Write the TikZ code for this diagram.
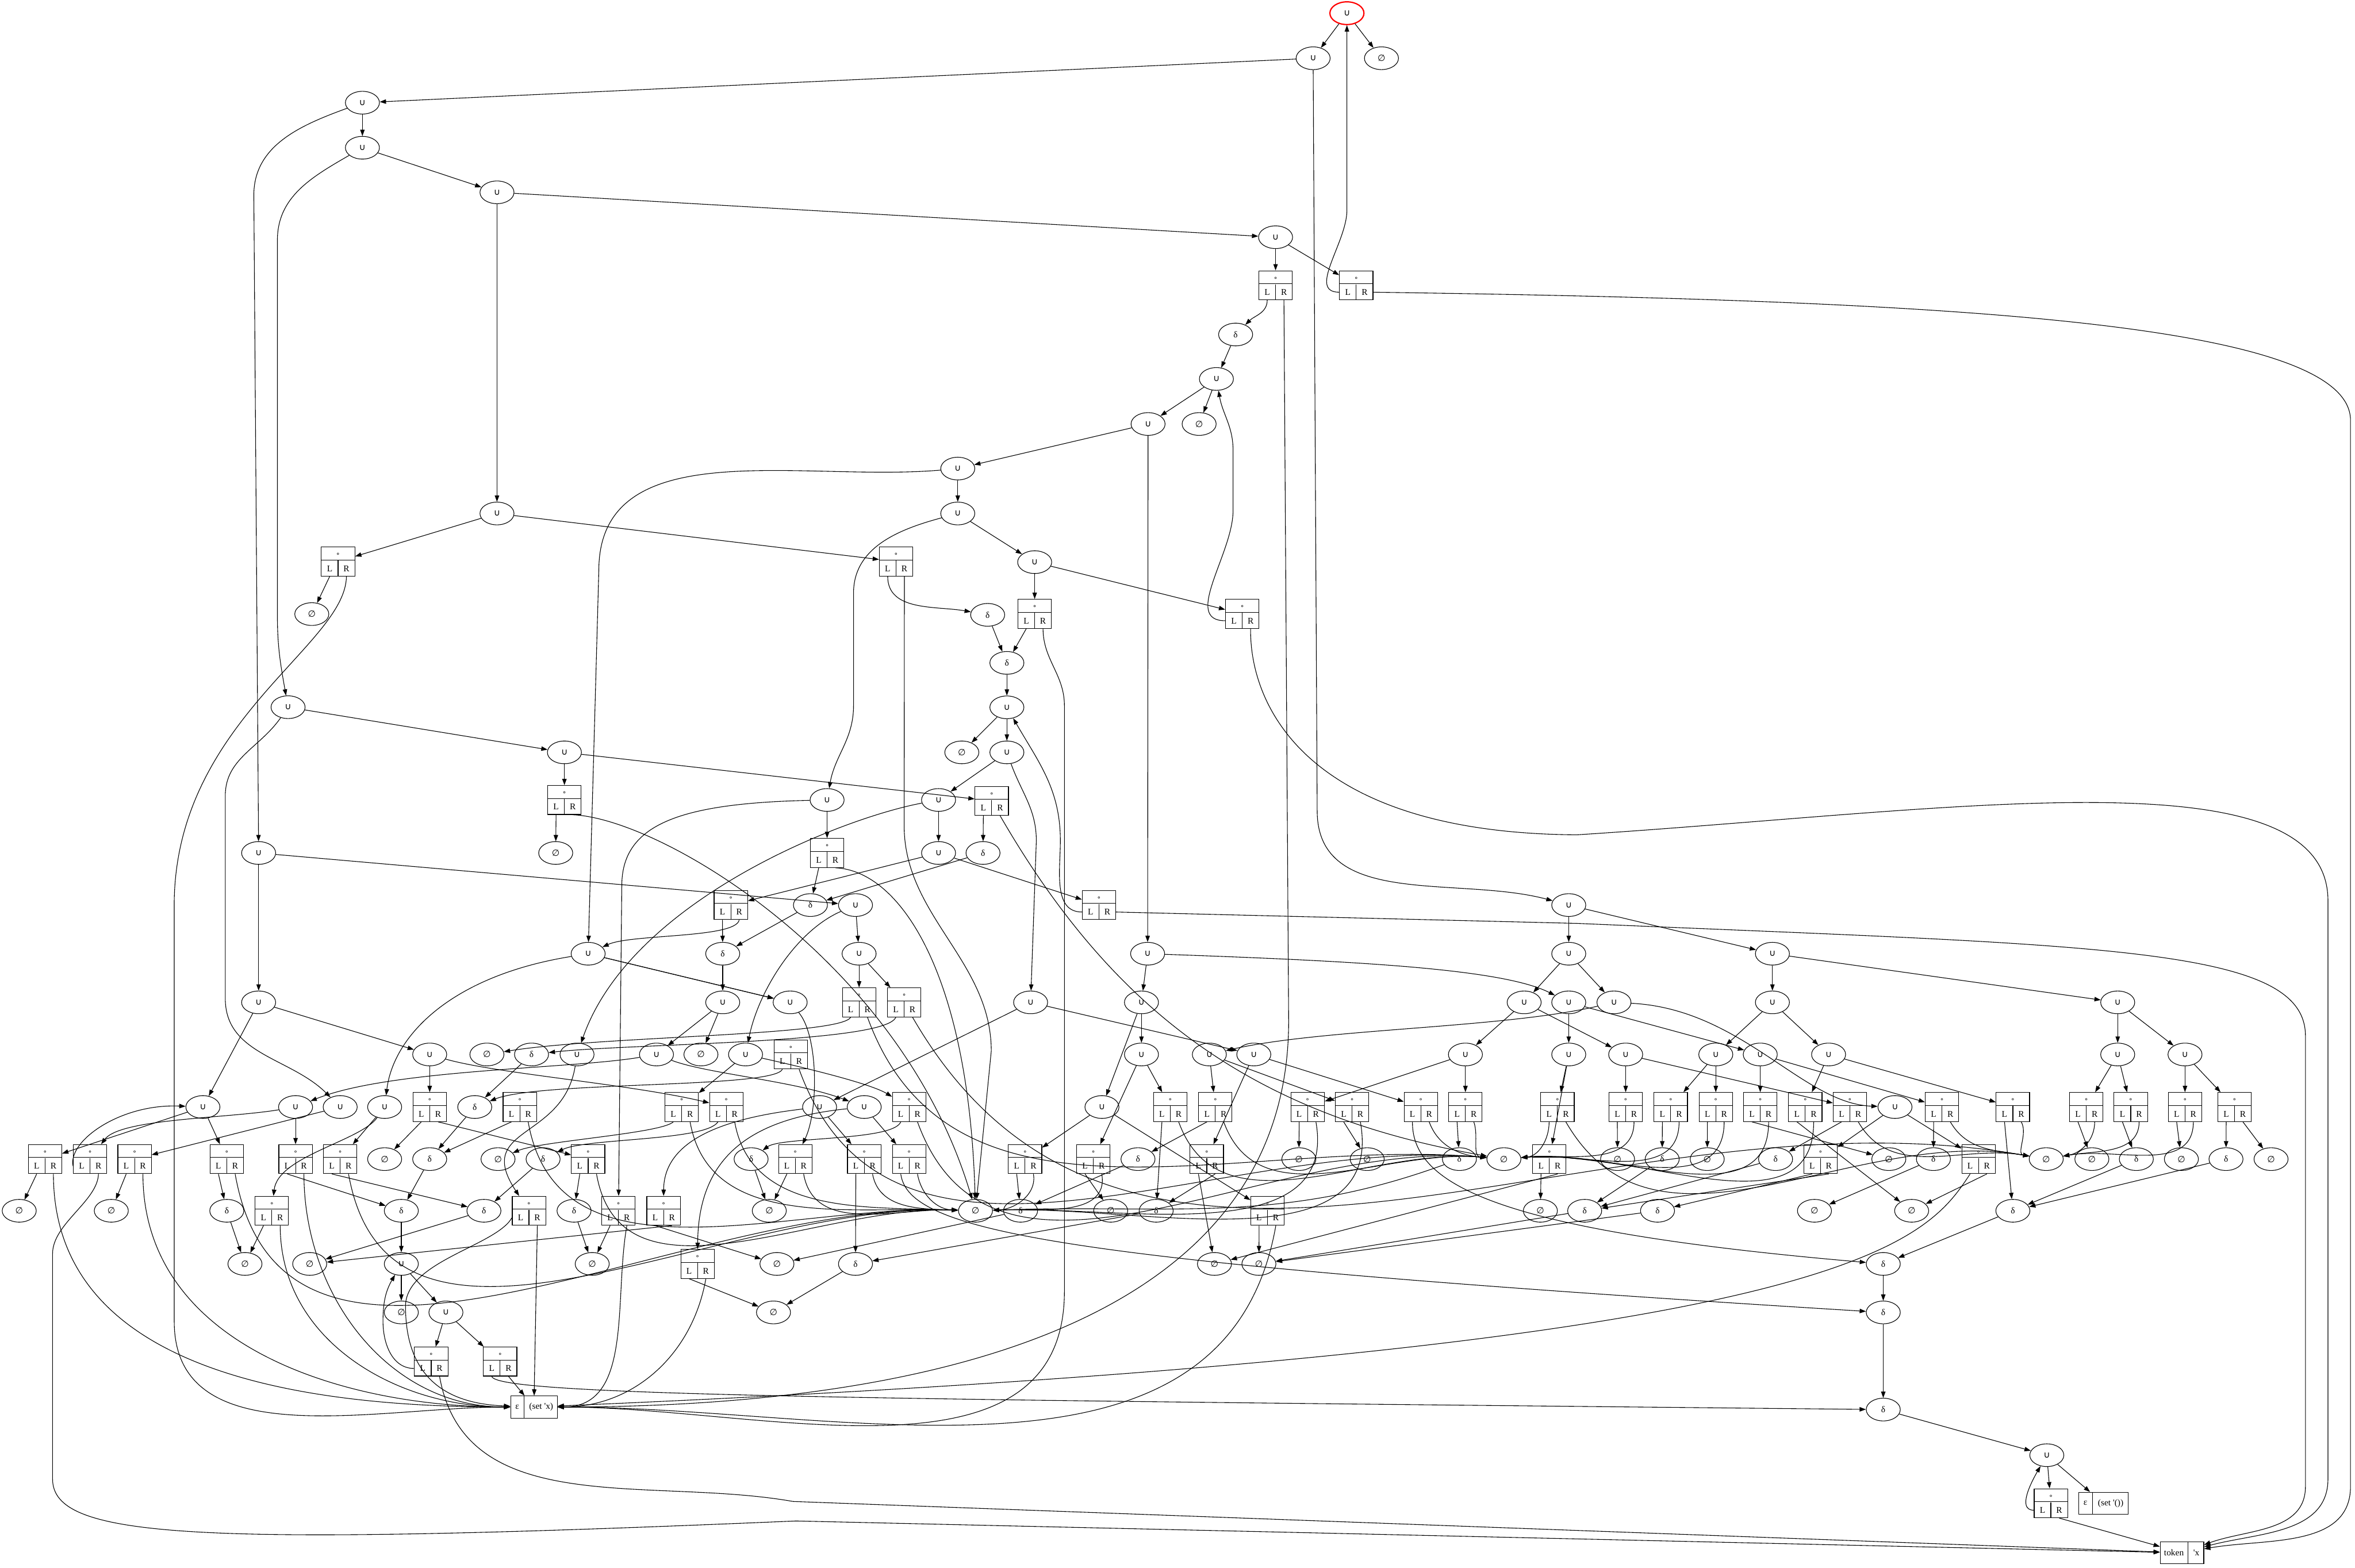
\documentclass[tikz,border=0pt]{standalone}
\usepackage{fontspec}
\setmainfont{Liberation Serif}
\newfontfamily\symf{DejaVu Sans}
\usetikzlibrary{positioning,arrows.meta,shapes.geometric,calc}

% concatenation record: empty top cell, L | R below
\newcommand{\catrec}[3]{%
  \node[catbox] (#1) at (#2,#3) {};
  \draw ($(#1.north west)+(0,-2.65pt)$) -- ($(#1.north east)+(0,-2.65pt)$);
  \draw (#1.south) -- ($(#1.south)+(0,3.15pt)$);
  \node[dot] at ($(#1.north)+(0,-1.6pt)$) {∘};
  \node[port] at ($(#1.south)+(-1.67pt,1.575pt)$) {L};
  \node[port] at ($(#1.south)+(1.67pt,1.575pt)$) {R};
  \coordinate (#1L) at ($(#1.south)+(-1.67pt,0)$);
  \coordinate (#1R) at ($(#1.south)+(1.67pt,0)$);
  \coordinate (#1Lw) at ($(#1.south west)+(0,1.575pt)$);
  \coordinate (#1Re) at ($(#1.south east)+(0,1.575pt)$);
}
% two-cell record
\newcommand{\pairrec}[7]{%
  \node[pairbox, minimum width=#4+#5] (#1) at (#2,#3) {};
  \draw ($(#1.north west)+(#4,0)$) -- ($(#1.south west)+(#4,0)$);
  \node[port] at ($(#1.west)+(#4/2,0)$) {#6};
  \node[port] at ($(#1.east)-(#5/2,0)$) {#7};
}

\begin{document}
\begin{tikzpicture}[x=0.3pt, y=-0.3pt, line width=0.126pt,
    op/.style={ellipse, draw, minimum width=6.8pt, minimum height=4.54pt, inner sep=0pt, font=\symf\fontsize{1.77}{2}\selectfont},
    dlt/.style={op, font=\fontsize{1.77}{2}\selectfont},
    catbox/.style={rectangle, draw, minimum width=6.68pt, minimum height=5.8pt, inner sep=0pt},
    pairbox/.style={rectangle, draw, minimum height=4.41pt, inner sep=0pt},
    port/.style={inner sep=0pt, font=\fontsize{1.77}{2}\selectfont},
    dot/.style={inner sep=0pt, font=\symf\fontsize{1.3}{1.4}\selectfont},
    arr/.style={-{Triangle[length=1.26pt,width=0.88pt]}}
]
\useasboundingbox (0,0) rectangle (1568,1044);

% union nodes
\node[op, draw=red, line width=0.252pt] (root) at (896.8,8.8) {∪};
\node[op] (u0) at (874.3,38.8) {∪};
\node[op] (u1) at (241.3,68.4) {∪};
\node[op] (u2) at (241.3,98.4) {∪};
\node[op] (u3) at (330.9,128.1) {∪};
\node[op] (u7) at (849.3,158) {∪};
\node[op] (u8) at (809.9,252.4) {∪};
\node[op] (u9) at (764.4,282.4) {∪};
\node[op] (u10) at (637.7,312.1) {∪};
\node[op] (u11) at (637.7,342) {∪};
\node[op] (u4) at (330.9,342) {∪};
\node[op] (u12) at (688.9,374.4) {∪};
\node[op] (u13) at (670.4,471.1) {∪};
\node[op] (u5) at (191.8,471) {∪};
\node[op] (u14) at (670.4,501.1) {∪};
\node[op] (u6) at (375.8,501.1) {∪};
\node[op] (u30) at (550.7,532.8) {∪};
\node[op] (u31) at (624.9,532.8) {∪};
\node[op] (u15) at (172.2,568.1) {∪};
\node[op] (u32) at (624.9,568.1) {∪};
\node[op] (u33) at (569.6,602.8) {∪};
\node[op] (u34) at (1044.5,602.8) {∪};
\node[op] (u16) at (391.6,635.2) {∪};
\node[op] (u35) at (572,635.2) {∪};
\node[op] (u36) at (764.1,635.2) {∪};
\node[op] (u37) at (1044.5,635.2) {∪};
\node[op] (u50) at (1180.1,635.2) {∪};
\node[op] (u17) at (172.2,667.6) {∪};
\node[op] (u18) at (481.2,667.6) {∪};
\node[op] (u19) at (526.1,667.6) {∪};
\node[op] (u38) at (686.2,667.6) {∪};
\node[op] (u39) at (760,667.6) {∪};
\node[op] (u40) at (1014.8,667.6) {∪};
\node[op] (u41) at (1044.5,667.6) {∪};
\node[op] (u51) at (1074.6,667.6) {∪};
\node[op] (u52) at (1180.1,667.6) {∪};
\node[op] (u53) at (1410,667.6) {∪};
\node[op] (u20) at (286.1,702.3) {∪};
\node[op] (u21) at (384.2,702.3) {∪};
\node[op] (u22) at (437.1,702.3) {∪};
\node[op] (u23) at (496.4,702.3) {∪};
\node[op] (u42) at (760,702.3) {∪};
\node[op] (u43) at (805.2,702.3) {∪};
\node[op] (u44) at (834.8,702.3) {∪};
\node[op] (u45) at (975.7,702.3) {∪};
\node[op] (u46) at (1044.5,702.3) {∪};
\node[op] (u54) at (1082.4,702.3) {∪};
\node[op] (u55) at (1142.4,702.3) {∪};
\node[op] (u56) at (1172,702.3) {∪};
\node[op] (u57) at (1217.5,702.3) {∪};
\node[op] (u58) at (1410,702.3) {∪};
\node[op] (u59) at (1454.8,702.3) {∪};
\node[op] (u24) at (135.1,737.3) {∪};
\node[op] (u25) at (196.8,737.3) {∪};
\node[op] (u26) at (226.5,737.3) {∪};
\node[op] (u27) at (256.1,737.3) {∪};
\node[op] (u47) at (545.7,737.3) {∪};
\node[op] (u48) at (575.4,737.3) {∪};
\node[op] (u49) at (733.7,737.3) {∪};
\node[op] (u60) at (1261.7,737.3) {∪};
\node[op] (u28) at (267.2,841.8) {∪};
\node[op] (u29) at (296.9,874.1) {∪};
\node[op] (u61) at (1362.8,969.2) {∪};

% empty-set nodes
\node[op] (z0) at (919.8,38.8) {∅};
\node[op] (z1) at (798.4,282.4) {∅};
\node[op] (z2) at (207.6,409) {∅};
\node[op] (z3) at (640.4,501.1) {∅};
\node[op] (z4) at (370,568.1) {∅};
\node[op] (z5) at (324.2,702.3) {∅};
\node[op] (z6) at (466.7,702.3) {∅};
\node[op] (z7) at (256.1,772) {∅};
\node[op] (z8) at (331.6,772) {∅};
\node[op] (z9) at (864.8,772) {∅};
\node[op] (z10) at (910.3,772) {∅};
\node[op] (hub2) at (1001.3,772) {∅};
\node[op] (z11) at (1077,772) {∅};
\node[op] (z12) at (1136.7,772) {∅};
\node[op] (z13) at (1257.6,772) {∅};
\node[op] (hub3) at (1362.4,772) {∅};
\node[op] (z14) at (1392.8,772) {∅};
\node[op] (z15) at (1452.4,772) {∅};
\node[op] (z16) at (1512.1,772) {∅};
\node[op] (z17) at (12.8,806.4) {∅};
\node[op] (z18) at (74.1,806.4) {∅};
\node[op] (z19) at (512.2,806.4) {∅};
\node[op] (hub1) at (649.5,806.4) {∅};
\node[op] (z20) at (739.5,806.4) {∅};
\node[op] (z21) at (1025.6,806.4) {∅};
\node[op] (z22) at (1208.1,806.4) {∅};
\node[op] (z23) at (1272.8,806.4) {∅};
\node[op] (z24) at (163.1,841.8) {∅};
\node[op] (z25) at (206.2,841.8) {∅};
\node[op] (z26) at (394.3,841.8) {∅};
\node[op] (z27) at (517.3,841.8) {∅};
\node[op] (z28) at (808.6,841.8) {∅};
\node[op] (z29) at (838.2,841.8) {∅};
\node[op] (z30) at (267.2,874.1) {∅};
\node[op] (z31) at (515,874.1) {∅};

% delta nodes
\node[dlt] (d1) at (822.7,222.8) {δ};
\node[dlt] (d2) at (657.6,409.5) {δ};
\node[dlt] (d3) at (670.4,441.5) {δ};
\node[dlt] (d14) at (654.5,568.1) {δ};
\node[dlt] (d15) at (539.6,602.8) {δ};
\node[dlt] (d4) at (481.2,635.2) {δ};
\node[dlt] (d5) at (353.9,702.3) {δ};
\node[dlt] (d6) at (316.1,737.3) {δ};
\node[dlt] (d7) at (286.1,772) {δ};
\node[dlt] (d8) at (361.6,772) {δ};
\node[dlt] (d9) at (500.1,772) {δ};
\node[dlt] (d16) at (757.7,772) {δ};
\node[dlt] (d17) at (971.7,772) {δ};
\node[dlt] (d22) at (1106.7,772) {δ};
\node[dlt] (d23) at (1182.2,772) {δ};
\node[dlt] (d24) at (1287.3,772) {δ};
\node[dlt] (d25) at (1422.4,772) {δ};
\node[dlt] (d26) at (1482.1,772) {δ};
\node[dlt] (d10) at (151,806.4) {δ};
\node[dlt] (d11) at (267.2,806.4) {δ};
\node[dlt] (d12) at (322.2,806.4) {δ};
\node[dlt] (d13) at (382.2,806.4) {δ};
\node[dlt] (d18) at (679.5,806.4) {δ};
\node[dlt] (d19) at (769.8,806.4) {δ};
\node[dlt] (d20) at (1055.1,806.4) {δ};
\node[dlt] (d27) at (1103.6,806.4) {δ};
\node[dlt] (d28) at (1340.2,806.4) {δ};
\node[dlt] (d21) at (569.6,841.8) {δ};
\node[dlt] (d29) at (1253.9,841.8) {δ};
\node[dlt] (d30) at (1253.9,874.1) {δ};
\node[dlt] (d31) at (1253.9,938.8) {δ};

% concatenation records
\catrec{r2}{849.3}{190}
\catrec{r3}{903}{190}
\catrec{r1}{225.1}{374}
\catrec{r4}{596.6}{374}
\catrec{r5}{688.9}{408.8}
\catrec{r6}{827.1}{408.8}
\catrec{r7}{375.8}{532.8}
\catrec{r29}{660.3}{533.4}
\catrec{r30}{550.7}{568.1}
\catrec{r8}{486.6}{602.8}
\catrec{r31}{731.7}{602.8}
\catrec{r32}{572}{667.6}
\catrec{r33}{602}{667.6}
\catrec{r9}{526.5}{702.3}
\catrec{r10}{286.1}{737.3}
\catrec{r11}{346.1}{737.3}
\catrec{r12}{453.9}{737.3}
\catrec{r13}{483.6}{737.3}
\catrec{r34}{605.3}{737.3}
\catrec{r35}{779.2}{737.3}
\catrec{r36}{809.2}{737.3}
\catrec{r37}{870.6}{737.3}
\catrec{r38}{900.2}{737.3}
\catrec{r39}{946}{737.3}
\catrec{r40}{975.7}{737.3}
\catrec{r41}{1037}{737.3}
\catrec{r49}{1082.4}{737.3}
\catrec{r50}{1112.4}{737.3}
\catrec{r51}{1142.4}{737.3}
\catrec{r52}{1172}{737.3}
\catrec{r53}{1202}{737.3}
\catrec{r54}{1231.7}{737.3}
\catrec{r55}{1293}{737.3}
\catrec{r56}{1340.2}{737.3}
\catrec{r57}{1389.1}{737.3}
\catrec{r58}{1418.7}{737.3}
\catrec{r59}{1454.8}{737.3}
\catrec{r60}{1487.8}{737.3}
\catrec{r14}{30}{772}
\catrec{r15}{60}{772}
\catrec{r16}{89.6}{772}
\catrec{r17}{151}{772}
\catrec{r18}{196.8}{772}
\catrec{r19}{226.5}{772}
\catrec{r20}{391.6}{772}
\catrec{r21}{529.5}{772}
\catrec{r42}{575.4}{772}
\catrec{r43}{605.3}{772}
\catrec{r44}{682.5}{772}
\catrec{r45}{728}{772}
\catrec{r46}{803.5}{772}
\catrec{r47}{1031.6}{772}
\catrec{r61}{1212.1}{772}
\catrec{r62}{1317.3}{772}
\catrec{r22}{181}{806.4}
\catrec{r23}{352.2}{806.4}
\catrec{r24}{411.8}{806.4}
\catrec{r25}{441.8}{806.4}
\catrec{r48}{843.9}{806.4}
\catrec{r26}{464.4}{841.8}
\catrec{r27}{287.1}{906.8}
\catrec{r28}{333}{906.8}
\catrec{r63}{1365.5}{1001.2}

% leaf records
\pairrec{eps}{355.5}{937.1}{2.77pt}{6.55pt}{ε}{(set \textquotesingle x)}
\pairrec{eps2}{1400.5}{1001.2}{2.77pt}{7.06pt}{ε}{(set \textquotesingle())}
\pairrec{tok}{1452.8}{1034.2}{5.62pt}{3.09pt}{token}{\textquotesingle x}

% short edges
\foreach \a/\b in {root/u0, root/z0, u0/u1, u1/u2, u2/u3, u3/u4, u3/u7, u4/r1, u4/r4, r1L/z2,
  u7/r2, u7/r3, d1/u8, u8/u9, u8/z1, u9/u10, u9/u36, u10/u11, u11/u12, u12/r5, u12/r6,
  d2/d3, r5L/d3, d3/u13, u13/z3, u13/u14, u14/u31, u5/u6, u6/r7, u6/r29, r7L/z4,
  u15/u17, u15/u33, u30/r30, u31/u32, u32/r31, u32/r8, r29L/d14, r30L/d15, u17/u24, u17/u20,
  r8L/d4, d4/u18, u18/u22, u18/z6, u16/u19, u20/r10, r10L/z7, d6/d7, d7/d11, d8/d12,
  r20L/d13, d13/z26, r24L/z26, u24/r14, u24/r17, u25/r18, u27/r19, r14L/z17, r16L/z18,
  r17L/d10, d10/z24, r22L/z24, d11/u28, u28/z30, u28/u29, u29/r27, u29/r28, r28R/eps,
  d9/z19, r21L/z19, u35/r32, u35/r33, u33/u35, u36/u39, u39/u42, u42/r35, u43/r36,
  u44/r46, u44/r39, u45/r40, u45/r37, u46/r41, u47/r42, u48/r43, u49/r44, u49/r48,
  r35L/d19, r36L/d16, r37L/z9, r38L/z10, r40L/d17, r42L/d21, r44L/d18, r45L/z20,
  d16/d18, r46L/z28, r46R/d19, d18/z27, d19/d21, r48L/z29, r47L/z21, d20/z29, d21/z31,
  u34/u37, u34/u50, u37/u51, u37/u40, u50/u52, u50/u53, u52/u55, u52/u57, u53/u58, u53/u59,
  u41/u46, u40/u45, u40/u54, u41/u56, u54/r49, u55/r50, u55/r51, u56/r52, u56/r55,
  u57/r53, u57/r56, u58/r57, u58/r58, u59/r59, u59/r60, u60/r61, u60/r62,
  r49L/z11, r50L/d22, r51L/z12, r54L/d23, r55L/d24, r56L/d28, r57L/z14, r58L/d25,
  r59L/z15, r60L/d26, r60R/z16, d24/z22, d28/d29, d29/d30, d30/d31, d31/u61,
  u61/r63, u61/eps2, r63R/tok, d23/d20, d26/d28, d25/d28, r47R/z28, r26L/z31, r25L/z27,
  d12/z25, d14/d15, d15/d4, u16/u19, u23/r12, r11L/d7, r18L/d11, r19L/d12, r25R/z25,
  d5/d6, u38/u47, u38/u44, u39/u49, u42/r45, u43/r38, u46/r47, r10R/r20, r61L/d27,
  r62R/z23, r52L/z13, r53L/z23, d22/d20, d27/z29, r61R/d20, u54/r54, u26/r16}
  \draw[arr] (\a) -- (\b);

% long routed edges
\draw[arr] (u0) -- (877,540) to[out=-90,in=165] (u34);
\draw[arr] (u1) to[out=200,in=90] (169,130) -- (u15);
\draw[arr] (u2) to[out=210,in=90] (184.7,160) -- (184.7,410) to[out=-90,in=100] (u5);
\draw[arr] (r1R) .. controls (230,430) and (118,480) .. (116,600) -- (116,880) to[out=-90,in=180] (eps);
\draw[arr] (r2L) to[out=-90,in=45] (d1);
\draw[arr] (r2R) -- (858,680) to[out=-90,in=0] (eps);
\draw[arr] (r3Lw) to[out=180,in=-90] (896.8,140) -- (root);
\draw[arr] (r3Re) .. controls (1300,200) and (1565,215) .. (1565,280) -- (1565,990) to[out=-90,in=10] (tok);
\draw[arr] (u10) to[out=185,in=90] (398.7,380) -- (u16);
\draw[arr] (u11) to[out=195,in=90] (568.3,395) -- (568.3,470) to[out=-90,in=80] (u30);
\draw[arr] (r4L) to[out=-90,in=170] (d2);
\draw[arr] (r4R) -- (602,550) .. controls (602,610) and (660,640) .. (660,700) -- (hub1);
\draw[arr] (r5R) to[out=-90,in=90] (708.7,470) -- (708.7,860) to[out=-90,in=0] (eps);
\draw[arr] (r6Lw) to[out=180,in=-90] (821,340) -- (821,300) to[out=90,in=-80] (u8);
\draw[arr] (r6R) .. controls (832,470) and (870,555) .. (1050,556) .. controls (1300,540) and (1550,500) .. (1550,600) -- (1550,985) to[out=-90,in=15] (tok);
\draw[arr] (r31Re) -- (1050,615) .. controls (1400,630) and (1535,630) .. (1535,690) -- (1535,990) to[out=-90,in=20] (tok);
\draw[arr] (r31Lw) to[out=180,in=-90] (706,560) to[out=90,in=-60] (u13);
\draw[arr] (u14) to[out=-70,in=90] (690,560) -- (u38);
\draw[arr] (u5) to[out=235,in=90] (150,530) -- (150,665) to[out=-90,in=135] (u26);
\draw[arr] (r7R) .. controls (440,545) and (600,640) .. (hub1);
\draw[arr] (r30R) .. controls (600,580) and (645,650) .. (hub1);
\draw[arr] (r8R) .. controls (490,625) and (420,622) .. (u16);
\draw[arr] (u30) .. controls (450,535) and (414,550) .. (414,590) -- (r24);
\draw[arr] (u31) .. controls (560,545) and (420,600) .. (u21);
\draw[arr] (u33) .. controls (530,620) and (505,660) .. (u23);
\draw[arr] (u16) .. controls (300,650) and (262,690) .. (u27);
\draw[arr] (u19) .. controls (545,690) and (545,740) .. (r21);
\draw[arr] (u20) .. controls (330,715) and (420,722) .. (r13);
\draw[arr] (u21) .. controls (375,760) and (315,750) .. (r23);
\draw[arr] (u22) .. controls (380,712) and (260,712) .. (u25);
\draw[arr] (u22) .. controls (470,715) and (530,720) .. (u48);
\draw[arr] (u23) .. controls (540,712) and (580,722) .. (r34);
\draw[arr] (u27) .. controls (240,760) and (185,770) .. (r22);
\draw[arr] (u25) .. controls (150,745) and (80,745) .. (r15);
\draw[arr] (u47) .. controls (480,745) and (442,760) .. (r25);
\draw[arr] (u48) .. controls (500,745) and (465,770) .. (r26);
\draw[arr] (u36) .. controls (900,640) and (1000,645) .. (u41);
\draw[arr] (u51) .. controls (1000,685) and (880,685) .. (u43);
\draw[arr] (u51) .. controls (1160,672) and (1200,735) .. (u60);
\draw[arr] (r9L) .. controls (515,725) and (360,720) .. (d6);
\draw[arr] (r12L) .. controls (440,755) and (360,760) .. (z8);
\draw[arr] (r13L) .. controls (470,760) and (390,758) .. (d8);
\draw[arr] (r34L) .. controls (595,760) and (520,757) .. (d9);
\draw[arr] (r32L) .. controls (560,690) and (400,690) .. (z5);
\draw[arr] (r33L) .. controls (590,695) and (420,695) .. (d5);
\draw[arr] (r39L) .. controls (940,790) and (1000,820) .. (d29);
\draw[arr] (r43L) .. controls (605,820) and (700,840) .. (d30);
\draw[arr] (r28L) .. controls (330,930) and (600,932) .. (d31);
\draw[arr] (r15Lw) .. controls (45,760) and (80,735) .. (u24);
\draw[arr] (r27Lw) to[out=180,in=-90] (255,880) to[out=90,in=-120] (u28);
\draw[arr] (r63Lw) to[out=180,in=-120] (u61);
\draw[arr] (r15R) .. controls (65,800) and (35,815) .. (35,835) -- (35,985) .. controls (35,1025) and (130,1030) .. (530,1013) -- (tok);
\draw[arr] (r27R) to[out=-80,in=170] (528,1000) -- (tok);
\draw[arr] (r29R) to[out=-60,in=170] (hub2);
\draw[arr] (r62L) .. controls (1280,830) and (1230,900) .. (eps);
\draw[arr] (r23Lw) .. controls (330,830) and (270,840) .. (270,870) .. controls (270,920) and (300,935) .. (eps);

% edges into the shared leaves
\foreach \a in {r11R,r12R,r13R,r17R,r19R,r20R,r21R,r42R,r43R}
  \draw[arr] (\a) to[out=-80,in=178] (hub1);
\foreach \a in {r44R,r45R,r37R,r38R}
  \draw[arr] (\a) to[out=-80,in=2] (hub1);
\draw[arr] (d17) to[out=200,in=2] (hub1);
\foreach \a in {r9R,r32R,r34R,r35R,r36R,r39R,r40R}
  \draw[arr] (\a) to[out=-70,in=175] (hub2);
\foreach \a in {r41L,r49R,r50R,r51R,r52R,r53R}
  \draw[arr] (\a) to[out=-90,in=5] (hub2);
\foreach \a in {r33R,r41R,r54R,r55R,r56R}
  \draw[arr] (\a) to[out=-60,in=170] (hub3);
\foreach \a in {r57R,r58R,r59R}
  \draw[arr] (\a) to[out=-90,in=10] (hub3);
\foreach \a in {r14R,r16R,r18R,r22R}
  \draw[arr] (\a) to[out=-90,in=180] (eps);
\draw[arr] (r23R) -- (eps);
\foreach \a in {r24R,r26R,r48R}
  \draw[arr] (\a) to[out=-100,in=0] (eps);

\end{tikzpicture}
\end{document}
